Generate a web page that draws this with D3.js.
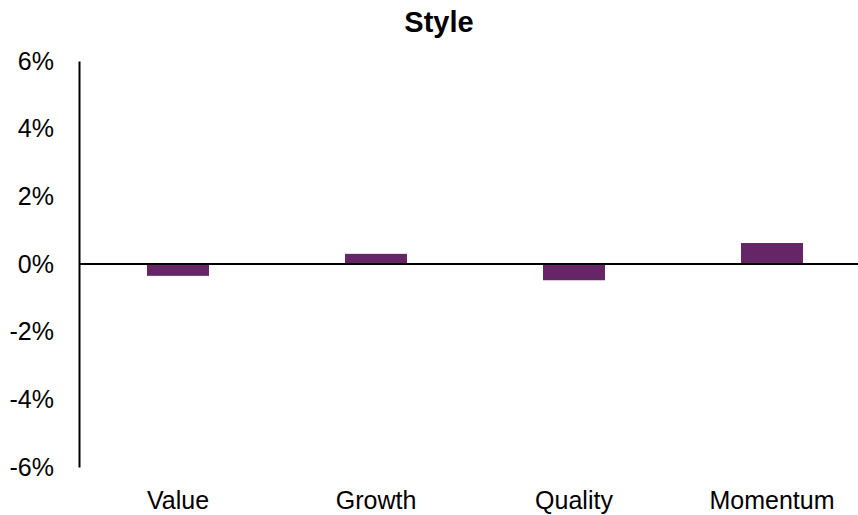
<!DOCTYPE html>
<html>
<head>
<meta charset="utf-8">
<script src="https://cdn.jsdelivr.net/npm/d3@7"></script>
<style>
  html, body { margin: 0; padding: 0; background: #fff; }
  svg { display: block; font-family: "Liberation Sans", Arial, sans-serif; }
</style>
</head>
<body>
<svg id="chart" width="858" height="515"></svg>
<script>
// Style factor returns (in %)
const categories = ["Value", "Growth", "Quality", "Momentum"];
const values = [-0.35, 0.30, -0.48, 0.62];
const yTicks = [-6, -4, -2, 0, 2, 4, 6];

const svg = d3.select("#chart");
const W = 858;
const FONT = "Liberation Sans, Arial, sans-serif";

const x = d3.scaleBand()
  .domain(categories)
  .range([79, 871])
  .paddingInner(0.687)
  .paddingOuter(0.3435);

const y = d3.scaleLinear()
  .domain([-6, 6])
  .range([467, 61]);

// title
svg.append("text")
  .attr("x", 439)
  .attr("y", 32)
  .attr("text-anchor", "middle")
  .attr("font-size", 29)
  .attr("font-weight", "bold")
  .attr("font-family", FONT)
  .attr("fill", "#000")
  .text("Style");

// bars
svg.append("g").selectAll("rect")
  .data(values)
  .join("rect")
  .attr("x", (d, i) => x(categories[i]))
  .attr("width", x.bandwidth())
  .attr("y", d => y(Math.max(0, d)))
  .attr("height", d => Math.abs(y(d) - y(0)))
  .attr("fill", "#652566");

// y axis
const yAxis = d3.axisLeft(y)
  .tickValues(yTicks)
  .tickSize(0)
  .tickPadding(25)
  .tickFormat(d => d + "%");

const gy = svg.append("g")
  .attr("transform", "translate(79,0)")
  .call(yAxis);
gy.attr("font-size", null).attr("font-family", null);
gy.select(".domain").attr("stroke", "#000").attr("stroke-width", 2);
gy.selectAll("text")
  .attr("font-size", 25)
  .attr("fill", "#000")
  .attr("font-family", FONT);

// zero line
svg.append("line")
  .attr("x1", 79)
  .attr("x2", W)
  .attr("y1", y(0))
  .attr("y2", y(0))
  .attr("stroke", "#000")
  .attr("stroke-width", 2);

// category labels
const xAxis = d3.axisBottom(x).tickSize(0).tickPadding(0);
const gx = svg.append("g")
  .attr("transform", "translate(0,509)")
  .call(xAxis);
gx.attr("font-size", null).attr("font-family", null);
gx.select(".domain").remove();
gx.selectAll("text")
  .attr("font-size", 25)
  .attr("fill", "#000")
  .attr("dy", 0)
  .attr("y", 0)
  .attr("font-family", FONT);
</script>
</body>
</html>
